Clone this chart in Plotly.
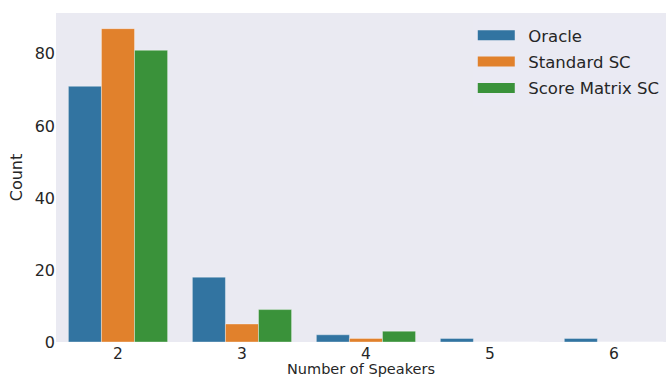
import plotly.graph_objects as go

categories = ["2", "3", "4", "5", "6"]
oracle = [71, 18, 2, 1, 1]
standard_sc = [87, 5, 1, 0, 0]
score_matrix_sc = [81, 9, 3, 0, 0]

series = [
    ("Oracle", oracle, "#3274a1"),
    ("Standard SC", standard_sc, "#e1812c"),
    ("Score Matrix SC", score_matrix_sc, "#3a923a"),
]

fig = go.Figure()
for name, vals, color in series:
    fig.add_trace(go.Bar(
        x=list(range(len(categories))), y=vals, name=name, showlegend=False,
        marker=dict(color=color, line=dict(color="rgba(255,255,255,0.6)", width=0.6)),
    ))
# legend swatches as wide rectangles (thick lines)
for name, vals, color in series:
    fig.add_trace(go.Scatter(
        x=[None], y=[None], mode="lines", name=" \u2009" + name, legendgroup=name,
        line=dict(color=color, width=11),
    ))

fig.update_layout(
    width=666, height=377,
    margin=dict(l=56, r=0, t=13, b=35),
    paper_bgcolor="white",
    plot_bgcolor="#EAEAF2",
    barmode="group", bargap=0.2, bargroupgap=0,
    font=dict(family="DejaVu Sans", color="#262626", size=16),
    showlegend=True,
    legend=dict(
        x=0.998, y=0.985, xanchor="right", yanchor="top",
        bgcolor="rgba(234,234,242,0.8)", borderwidth=0,
        font=dict(size=16.5), itemwidth=37, tracegroupgap=2,
    ),
    xaxis=dict(
        tickmode="array", tickvals=list(range(len(categories))), ticktext=categories,
        range=[-0.5, 4.42], showgrid=False, zeroline=False, showline=False,
        ticks="", tickfont=dict(size=15.5),
        title=dict(text="Number of Speakers", font=dict(size=14.5), standoff=5),
    ),
    yaxis=dict(
        range=[0, 91.35], tickvals=[0, 20, 40, 60, 80], showgrid=False,
        zeroline=False, showline=False, ticks="", tickfont=dict(size=16),
        title=dict(text="Count", font=dict(size=16), standoff=8),
    ),
)

fig.write_html("out.html")
